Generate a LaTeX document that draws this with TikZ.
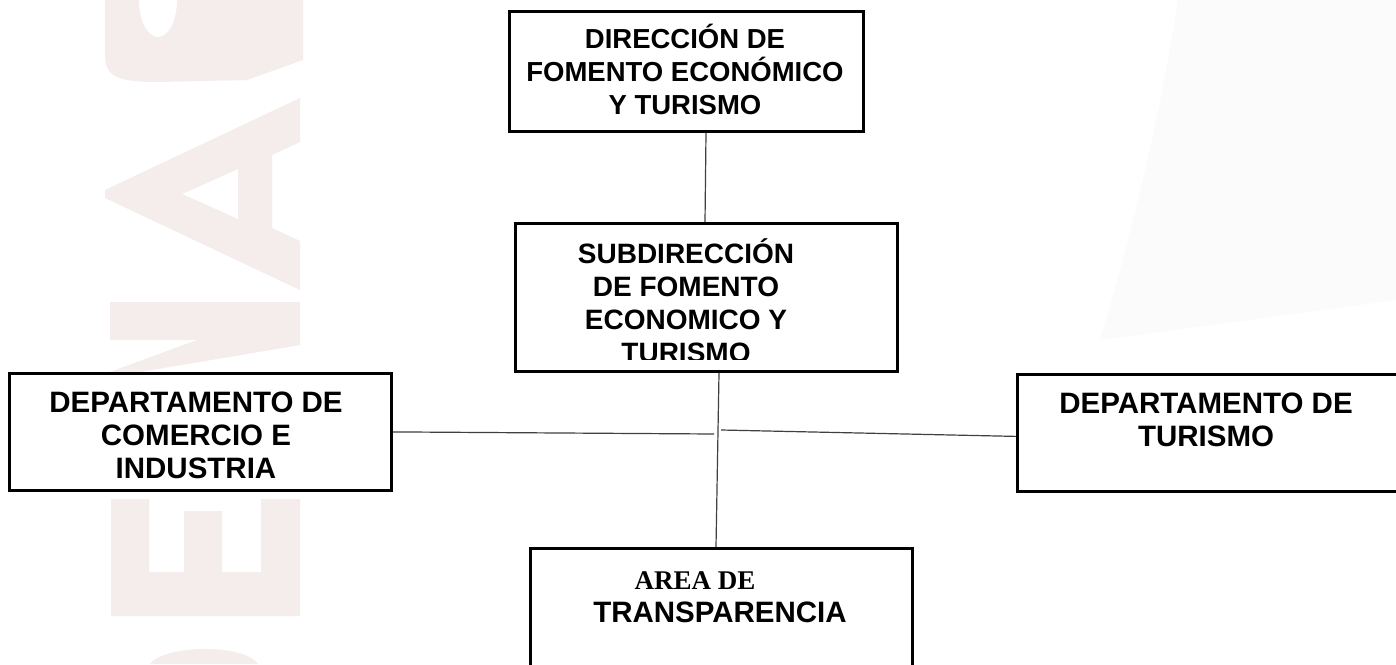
\documentclass[tikz,border=0pt]{standalone}
\usepackage{fontspec}
\setmainfont{Liberation Sans}
\newfontfamily\serifarea{Liberation Serif}
\definecolor{wm}{RGB}{245,236,236}
\definecolor{wmgray}{RGB}{251,251,251}
\begin{document}
\begin{tikzpicture}[x=1pt,y=-1pt,
  orgbox/.style={draw=black,line width=2.8pt,rectangle,inner sep=0pt,anchor=north west,fill=none},
  orgtext/.style={align=center,anchor=north,inner sep=0pt,font=\fontsize{28}{33}\selectfont\bfseries},
  bigtext/.style={orgtext,font=\fontsize{29.5}{33}\selectfont\bfseries},
  conn/.style={draw=black!75,line width=1.2pt}]
\useasboundingbox (0,0) rectangle (1396,664);
\fill[white] (0,0) rectangle (1396,664);
% faint background watermark
\fill[wmgray] (1178,0) .. controls (1160,120) and (1130,240) .. (1100,340) -- (1396,300) -- (1396,0) -- cycle;
% S (top)
\fill[wm] (105,0) -- (105,55) .. controls (105,78) and (120,82) .. (160,82) -- (247,80) -- (303,60) -- (303,0) -- cycle;
\fill[white] (158,0) ellipse [x radius=19pt, y radius=37pt];
% A
\fill[wm,even odd rule] (105,190) -- (300,98) -- (300,142) -- (272,155) -- (272,228) -- (300,241) -- (300,290) -- (105,198) -- cycle
  (182,194) -- (238,169) -- (238,219) -- cycle;
% N
\fill[wm] (110,302) rectangle (300,340);
\fill[wm] (110,372) -- (300,302) -- (300,345) -- (140,372) -- cycle;
% E
\fill[wm] (111,499) -- (149,499) -- (149,572) -- (184,572) -- (184,511) -- (222,511) -- (222,572) -- (261,572) -- (261,499) -- (300,499) -- (300,616) -- (111,616) -- cycle;
% S / O (bottom)
\fill[wm] (150,664) .. controls (165,644) and (245,644) .. (258,664) -- cycle;
% boxes
\node[orgbox,minimum width=354pt,minimum height=120pt] (dir) at (508,10) {};
\node[orgbox,minimum width=382pt,minimum height=148pt] (sub) at (514,222) {};
\node[orgbox,minimum width=382pt,minimum height=117pt] (com) at (8,372) {};
\node[orgbox,minimum width=390pt,minimum height=117pt] (tur) at (1016,373) {};
\node[orgbox,minimum width=382pt,minimum height=130pt] (area) at (529,547) {};
% texts
\node[orgtext,font=\fontsize{27.5}{33}\selectfont\bfseries] (tdir) at (685,22) {\rule{0pt}{26pt}DIRECCIÓN DE\\FOMENTO ECONÓMICO\\Y TURISMO};
\begin{scope}
\clip (514,222) rectangle (896,359);
\node[orgtext] (tsub) at (686,237) {\rule{0pt}{26pt}SUBDIRECCIÓN\\DE FOMENTO\\ECONOMICO Y\\TURISMO};
\end{scope}
\node[bigtext] (tcom) at (196,386) {\rule{0pt}{26pt}DEPARTAMENTO DE\\COMERCIO E\\INDUSTRIA};
\node[bigtext] (ttur) at (1206,387) {\rule{0pt}{26pt}DEPARTAMENTO DE\\TURISMO};
\node[bigtext] (tarea) at (720,563) {\rule{0pt}{26pt}{\serifarea\fontsize{27}{33}\selectfont\bfseries AREA DE}\hspace*{50pt}\\TRANSPARENCIA};
% connectors
\coordinate (jl) at (714,434);
\coordinate (jr) at (721,430);
\draw[conn] ([xshift=198pt]dir.south west) -- ([xshift=191pt]sub.north west);
\draw[conn] ([xshift=205pt]sub.south west) -- ([xshift=187pt]area.north west);
\draw[conn] (com.east) -- (jl);
\draw[conn] (jr) -- ([yshift=-3.5pt]tur.west);
\end{tikzpicture}
\end{document}
